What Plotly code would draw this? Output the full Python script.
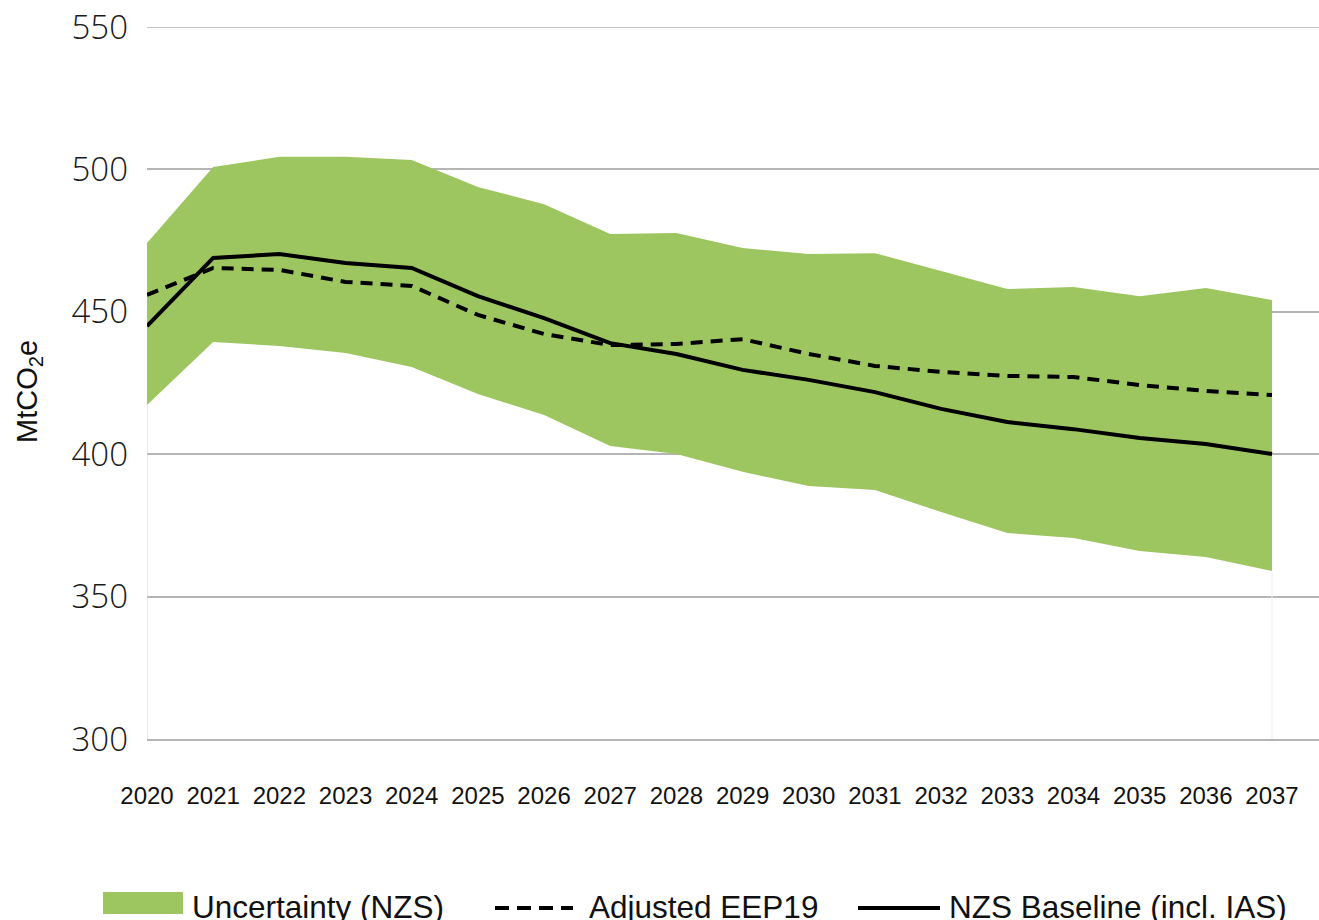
import plotly.graph_objects as go

# Emissions projections, MtCO2e
years = list(range(2020, 2038))
band_upper = [474.2, 500.8, 504.4, 504.4, 503.3, 493.8, 487.8, 477.3, 477.7,
              472.4, 470.3, 470.6, 464.3, 458.0, 458.7, 455.5, 458.4, 454.1]
band_lower = [417.3, 439.4, 438.0, 435.5, 430.6, 421.1, 413.8, 402.9, 400.1,
              393.8, 388.8, 387.4, 379.7, 372.3, 370.6, 366.0, 363.9, 359.0]
nzs_baseline = [445.0, 468.9, 470.3, 467.1, 465.4, 455.5, 447.8, 439.0, 435.2,
                429.6, 426.1, 421.8, 415.9, 411.3, 408.8, 405.7, 403.6, 400.1]
adjusted_eep19 = [455.9, 465.4, 464.7, 460.5, 459.1, 448.9, 442.2, 438.3, 438.7,
                  440.4, 435.2, 431.0, 428.9, 427.5, 427.1, 424.3, 422.2, 420.8]
y_ticks = [300, 350, 400, 450, 500, 550]

GREEN = "#9ec660"
GRID = "#b5b5b5"
W, H = 1319, 920
L, R, T, B = 147, 1319, 27, 739
STEP = (1272 - 147) / 17


def px(x):
    return (x - L) / (R - L)


def py(y):
    return (B - y) / (B - T)


fig = go.Figure()

# uncertainty band: lower edge, then upper edge filled down to it
fig.add_trace(go.Scatter(x=years, y=band_lower, mode="lines",
                         line=dict(width=0, color=GREEN), showlegend=False,
                         hoverinfo="skip"))
fig.add_trace(go.Scatter(x=years, y=band_upper, mode="lines", fill="tonexty",
                         fillcolor=GREEN, line=dict(width=0, color=GREEN),
                         name="Uncertainty (NZS)", showlegend=False))

# faint outline of the base area at both ends
fig.add_trace(go.Scatter(x=[years[0], years[0]], y=[y_ticks[0], band_lower[0]],
                         mode="lines", line=dict(width=1, color="#e2d2d2"),
                         showlegend=False, hoverinfo="skip"))
fig.add_trace(go.Scatter(x=[years[-1], years[-1]], y=[y_ticks[0], band_lower[-1]],
                         mode="lines", line=dict(width=1, color="#eeeeee"),
                         showlegend=False, hoverinfo="skip"))

fig.add_trace(go.Scatter(x=years, y=adjusted_eep19, mode="lines",
                         line=dict(width=4, color="black", dash="12px,8px"),
                         name="Adjusted EEP19", showlegend=False))
fig.add_trace(go.Scatter(x=years, y=nzs_baseline, mode="lines",
                         line=dict(width=4, color="black"),
                         name="NZS Baseline (incl. IAS)", showlegend=False))

x_max = 2037 + (R - 1272) / STEP

fig.update_xaxes(range=[2020, x_max], tickvals=years,
                 ticktext=[str(y) for y in years], showgrid=False,
                 zeroline=False, showline=True, linecolor=GRID,
                 linewidth=1.5, ticks="", ticklabelstandoff=34,
                 tickfont=dict(family="Liberation Sans, Arial", size=24,
                               color="#111111"))
fig.update_yaxes(range=[300, 550], tickvals=y_ticks, showgrid=True,
                 gridcolor=GRID, gridwidth=1.5, zeroline=False,
                 showline=False, ticks="", ticklabelstandoff=18,
                 tickfont=dict(family="Open Sans", size=33, weight=300,
                               color="#1a1a1a"))

annotations = [
    dict(text="MtCO<sub>2</sub>e", x=px(29), y=py(392), xref="paper",
         yref="paper", showarrow=False, textangle=-90, xanchor="center",
         yanchor="middle", font=dict(family="Liberation Sans, Arial", size=29,
                                     color="#111111")),
]
legend_font = dict(family="Liberation Sans, Arial", size=31.5, color="#111111")
legend_y = 907
for text, x0 in [("Uncertainty (NZS)", 190), ("Adjusted EEP19", 587),
                 ("NZS Baseline (incl. IAS)", 947)]:
    annotations.append(dict(text=text, x=px(x0), y=py(legend_y), xref="paper",
                            yref="paper", showarrow=False, xanchor="left",
                            yanchor="middle", font=legend_font))

shapes = [
    # gridline on the top edge of the value range
    dict(type="line", xref="paper", yref="y", x0=0, x1=1, y0=y_ticks[-1],
         y1=y_ticks[-1], line=dict(color=GRID, width=1.5), layer="below"),
    dict(type="rect", xref="paper", yref="paper", x0=px(103), x1=px(183),
         y0=py(914), y1=py(892), fillcolor=GREEN, line=dict(width=0)),
    dict(type="line", xref="paper", yref="paper", x0=px(495), x1=px(573),
         y0=py(908), y1=py(908),
         line=dict(color="black", width=4, dash="14px,8px")),
    dict(type="line", xref="paper", yref="paper", x0=px(858), x1=px(940),
         y0=py(908), y1=py(908), line=dict(color="black", width=4)),
]

fig.update_layout(width=W, height=H, margin=dict(l=L, r=W - R, t=T, b=H - B),
                  paper_bgcolor="white", plot_bgcolor="white",
                  annotations=annotations, shapes=shapes, showlegend=False)

fig.write_html("out.html")
